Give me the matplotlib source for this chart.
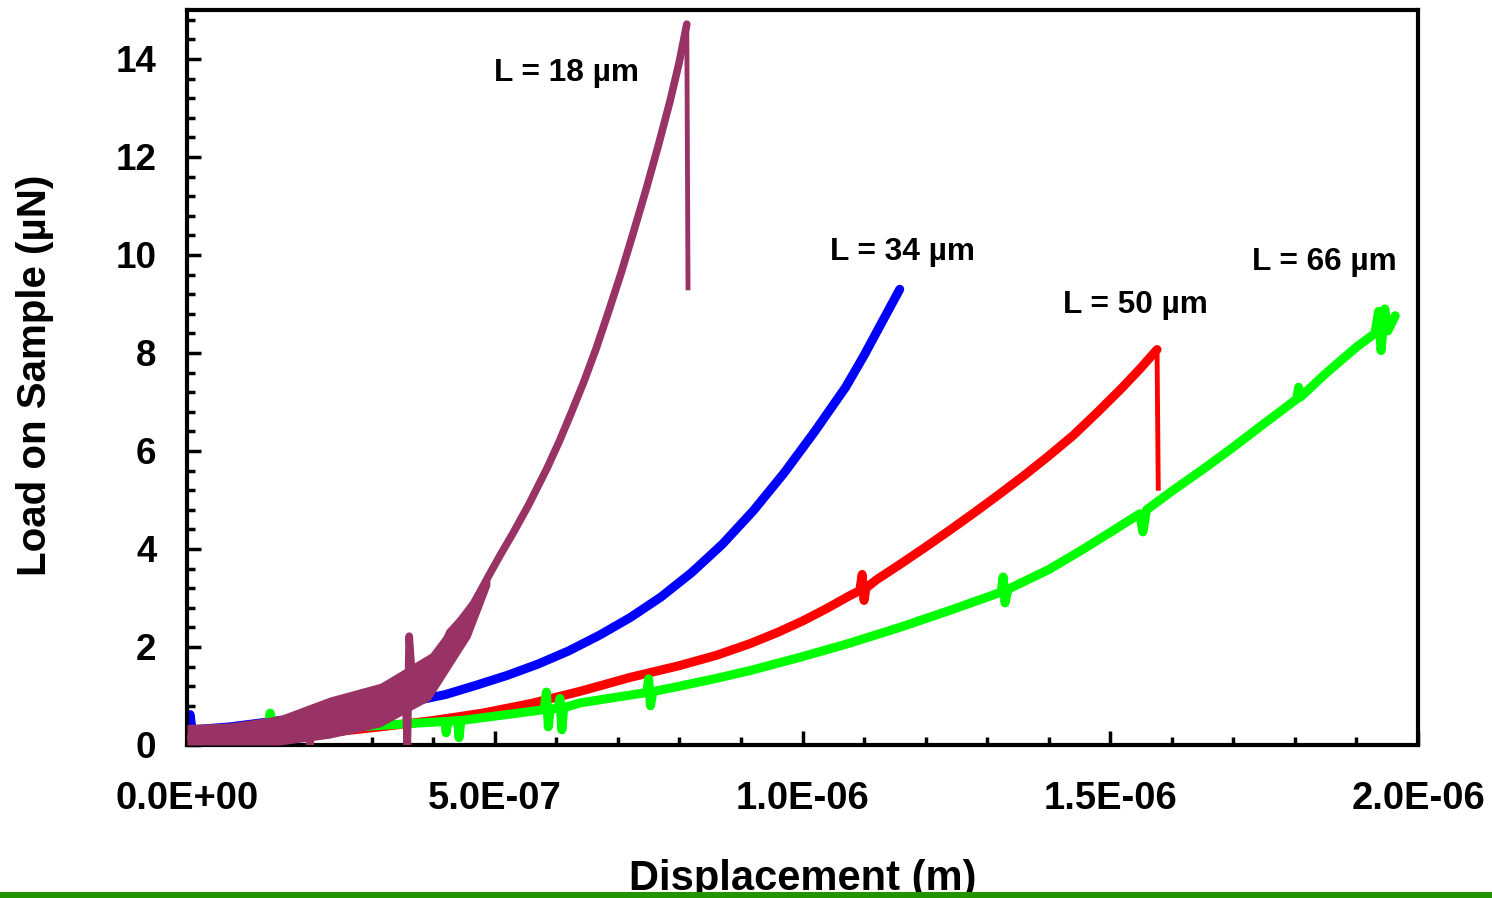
import matplotlib
matplotlib.use("Agg")
import matplotlib.pyplot as plt
from matplotlib.ticker import MultipleLocator, FuncFormatter
from matplotlib.patches import Rectangle

plt.rcParams['font.family'] = ['Liberation Sans', 'DejaVu Sans']
plt.rcParams['font.weight'] = 'bold'

# displacement in micrometres, load in micronewtons
disp_18 = [0.005, 0.070, 0.151, 0.197, 0.200, 0.203, 0.232, 0.314, 0.354, 0.358,
           0.361, 0.365, 0.395, 0.427, 0.460, 0.475, 0.490, 0.510, 0.530, 0.555,
           0.585, 0.605, 0.625, 0.645, 0.665, 0.685, 0.705, 0.725, 0.745, 0.765,
           0.785, 0.800, 0.812, 0.814]
load_18 = [0.15, 0.22, 0.30, 0.50, 0.00, 0.60, 0.56, 0.82, 1.30, 0.00,
           2.22, 1.50, 1.40, 2.30, 2.75, 3.10, 3.45, 3.90, 4.33, 4.90,
           5.65, 6.20, 6.80, 7.42, 8.10, 8.85, 9.62, 10.45, 11.30, 12.20,
           13.15, 13.95, 14.71, 9.33]
# scatter envelope of the L = 18 trace at small displacement
band_disp_18 = [0.000, 0.070, 0.151, 0.232, 0.314, 0.395, 0.460, 0.492]
band_low_18 = [0.00, 0.00, 0.00, 0.14, 0.37, 0.92, 2.20, 3.25]
band_high_18 = [0.42, 0.45, 0.60, 0.98, 1.26, 1.87, 2.95, 3.65]

disp_34 = [0.000, 0.005, 0.010, 0.020, 0.070, 0.151, 0.232, 0.314, 0.370, 0.420,
           0.470, 0.520, 0.570, 0.620, 0.670, 0.720, 0.770, 0.820, 0.870, 0.920,
           0.970, 1.020, 1.070, 1.100, 1.130, 1.158]
load_34 = [0.30, 0.62, 0.15, 0.32, 0.37, 0.50, 0.65, 0.78, 0.90, 1.03,
           1.22, 1.42, 1.65, 1.92, 2.24, 2.60, 3.02, 3.52, 4.10, 4.78,
           5.55, 6.40, 7.30, 7.95, 8.65, 9.30]

disp_50 = [0.102, 0.184, 0.249, 0.314, 0.400, 0.480, 0.560, 0.640, 0.720, 0.800,
           0.860, 0.915, 0.960, 1.000, 1.040, 1.077, 1.093, 1.097, 1.100, 1.103,
           1.120, 1.160, 1.200, 1.240, 1.280, 1.320, 1.360, 1.400, 1.440, 1.480,
           1.520, 1.550, 1.576, 1.578]
load_50 = [0.15, 0.22, 0.28, 0.37, 0.50, 0.65, 0.85, 1.10, 1.38, 1.62,
           1.83, 2.07, 2.30, 2.53, 2.79, 3.05, 3.15, 3.48, 2.95, 3.20,
           3.37, 3.70, 4.04, 4.39, 4.75, 5.12, 5.50, 5.90, 6.32, 6.80,
           7.30, 7.70, 8.07, 5.24]

disp_66 = [0.102, 0.132, 0.135, 0.140, 0.184, 0.249, 0.314, 0.379, 0.419, 0.421,
           0.424, 0.440, 0.442, 0.445, 0.476, 0.580, 0.584, 0.587, 0.590, 0.603,
           0.606, 0.609, 0.612, 0.639, 0.700, 0.747, 0.750, 0.753, 0.757, 0.800,
           0.860, 0.915, 0.996, 1.077, 1.158, 1.240, 1.323, 1.326, 1.329, 1.334,
           1.400, 1.450, 1.500, 1.548, 1.553, 1.559, 1.600, 1.650, 1.700, 1.750,
           1.803, 1.806, 1.809, 1.850, 1.900, 1.930, 1.936, 1.940, 1.946, 1.951,
           1.963]
load_66 = [0.25, 0.30, 0.65, 0.30, 0.30, 0.35, 0.40, 0.45, 0.48, 0.25,
           0.48, 0.50, 0.15, 0.50, 0.55, 0.72, 1.08, 0.37, 0.72, 0.76,
           0.95, 0.31, 0.76, 0.86, 0.98, 1.07, 1.35, 0.80, 1.09, 1.20,
           1.36, 1.52, 1.79, 2.08, 2.40, 2.75, 3.12, 3.43, 2.90, 3.18,
           3.58, 3.95, 4.34, 4.72, 4.35, 4.80, 5.18, 5.62, 6.08, 6.56,
           7.06, 7.30, 7.10, 7.58, 8.12, 8.40, 8.85, 8.05, 8.90, 8.45,
           8.76]

labels = ['L = 18 µm', 'L = 34 µm', 'L = 50 µm', 'L = 66 µm']
label_pos = [(0.499, 13.72), (1.045, 10.07), (1.423, 8.97), (1.730, 9.86)]

c18, c34, c50, c66 = '#993366', '#0000FF', '#FF0000', '#00FF00'


def um(vals):
    return [v * 1e-6 for v in vals]


fig = plt.figure(figsize=(14.92, 8.98), dpi=100)
ax = fig.add_axes([187 / 1492, 1 - 745 / 898, (1418 - 187) / 1492, (745 - 10) / 898])

ax.plot(um(disp_34), load_34, color=c34, lw=6.5, solid_capstyle='round',
        solid_joinstyle='round', zorder=2)
ax.plot(um(disp_50[:-1]), load_50[:-1], color=c50, lw=6.5, solid_capstyle='round',
        solid_joinstyle='round', zorder=3)
ax.plot(um(disp_50[-2:]), load_50[-2:], color=c50, lw=3.5, zorder=3)
ax.plot(um(disp_66), load_66, color=c66, lw=6.5, solid_capstyle='round',
        solid_joinstyle='round', zorder=4)
ax.fill_between(um(band_disp_18), band_low_18, band_high_18, color=c18, lw=0, zorder=5)
ax.plot(um(disp_18[:-1]), load_18[:-1], color=c18, lw=5.5, solid_capstyle='round',
        solid_joinstyle='round', zorder=5)
ax.plot(um(disp_18[-2:]), load_18[-2:], color=c18, lw=3.5, zorder=5)

for txt, (x, y) in zip(labels, label_pos):
    ax.text(x * 1e-6, y, txt, fontsize=22.8, fontweight='bold', ha='left', va='center')

ax.set_xlim(0, 2e-6)
ax.set_ylim(0, 15)
ax.xaxis.set_major_locator(MultipleLocator(5e-7))
ax.xaxis.set_minor_locator(MultipleLocator(1e-7))
ax.xaxis.set_major_formatter(FuncFormatter(lambda v, p: f"{v:.1E}"))
ax.yaxis.set_major_locator(MultipleLocator(2))
ax.yaxis.set_minor_locator(MultipleLocator(0.4))

ax.tick_params(which='both', direction='in', top=False, right=False, width=2.5)
ax.tick_params(which='major', length=10)
ax.tick_params(which='minor', length=6)
ax.tick_params(axis='x', pad=26, labelsize=27.5)
ax.tick_params(axis='y', pad=22, labelsize=26.5)
for lab in ax.get_xticklabels() + ax.get_yticklabels():
    lab.set_fontweight('bold')
for sp in ax.spines.values():
    sp.set_linewidth(3)

fig.text(35 / 1492, 1 - 375 / 898, 'Load on Sample (µN)', rotation=90,
         fontsize=29, fontweight='bold', ha='center', va='center')
fig.text(803 / 1492, 1 - 890 / 898, 'Displacement (m)', fontsize=30,
         fontweight='bold', ha='center', va='baseline')

# green strip along the lower edge
fig.patches.append(Rectangle((0, 0), 1, 6 / 898, transform=fig.transFigure,
                             facecolor='#239400', edgecolor='none', zorder=10))

fig.savefig('out.png', dpi=100)
